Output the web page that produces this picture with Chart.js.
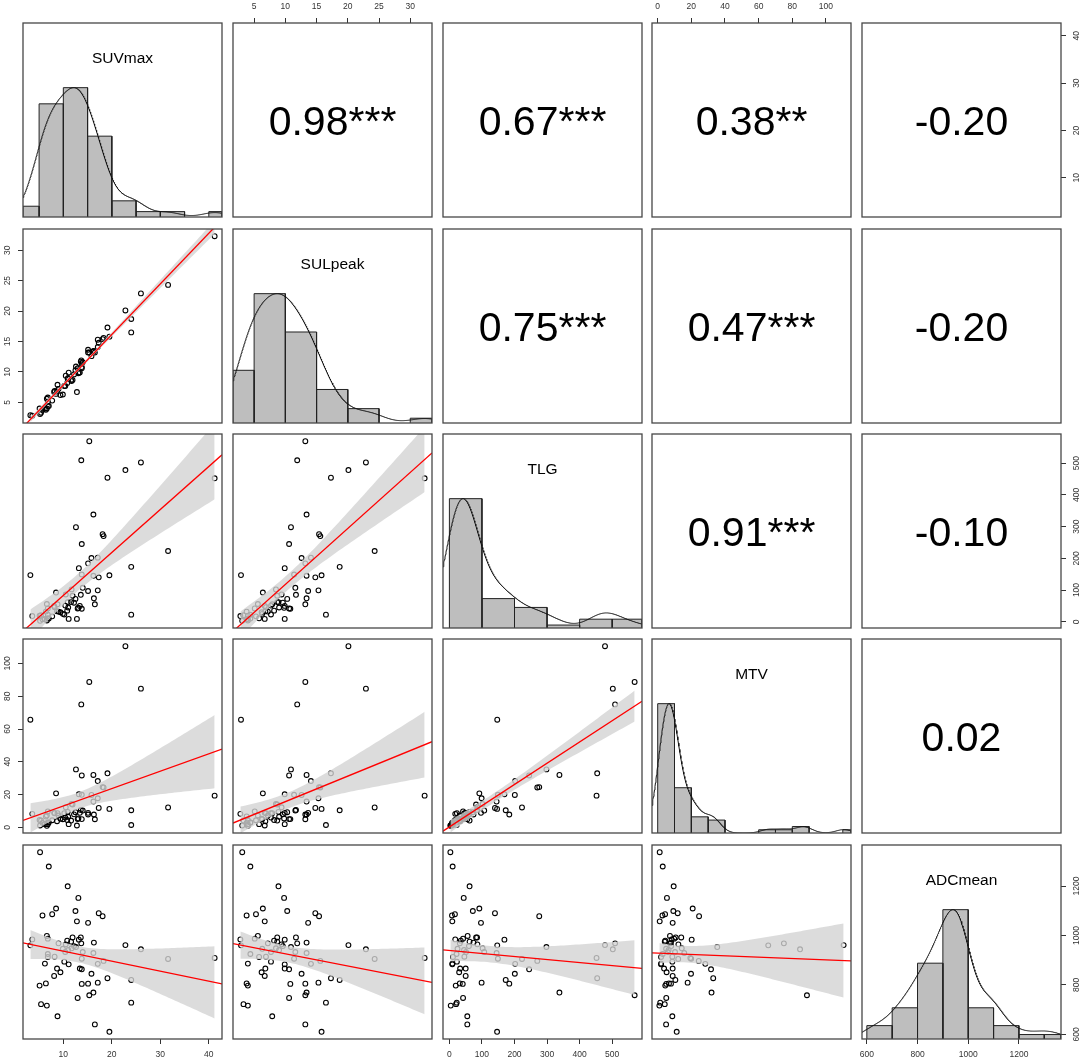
<!DOCTYPE html>
<html>
<head>
<meta charset="utf-8">
<title>Scatterplot matrix</title>
<script src="https://cdn.jsdelivr.net/npm/chart.js@4.4.1/dist/chart.umd.min.js"></script>
<style>
  html, body { margin:0; padding:0; background:#ffffff; }
  #wrap { position:relative; width:1084px; height:1063px; overflow:hidden; background:#fff; }
  .cell { position:absolute; }
  .cell canvas { display:block; }
</style>
</head>
<body>
<div id="wrap"></div>
<script>
// ---------------- data (one entry per patient) ----------------
const varNames = ['SUVmax', 'SULpeak', 'TLG', 'MTV', 'ADCmean'];
const SUVmax = [5.2, 7.0, 10.9, 13.1, 8.5, 12.5, 17.3, 18.1, 7.7, 5.7, 12.8, 15.1,
  6.6, 11.9, 13.6, 6.8, 3.6, 13.2, 11.6, 9.0, 13.7, 16.3, 10.5, 22.8, 3.2, 12.6, 9.9, 11.7, 26.0, 11.0, 12.2, 10.8,
  6.8, 6.8, 8.2, 10.4, 14.0, 16.2, 13.8, 31.6, 41.2, 10.2, 11.1, 6.2, 17.1, 18.3,
  19.1, 24.0, 15.8, 13.8, 13.4, 8.7, 9.4, 8.1, 15.1, 17.1, 13.8, 6.4, 5.1,
  12.95, 15.35, 16.2, 5.4, 6.6, 24.0, 8.8, 16.5, 19.5];
const SULpeak = [3.1, 4.4, 8.9, 9.8, 6.4, 10.3, 14.8, 15.4, 5.3, 3.8, 6.7, 13.65,
  5.6, 8.7, 11.7, 5.1, 2.8, 9.9, 8.7, 7.2, 11.9, 13.4, 9.4, 20.1, 2.9, 10.9, 6.3, 8.5, 22.9, 9.0, 9.6, 8.2,
  4.4, 5.8, 6.9, 7.7, 11.6, 13.4, 11.4, 24.3, 32.3, 7.7, 9.9, 4.0, 14.1, 15.6,
  17.3, 18.7, 12.6, 10.6, 9.9, 6.8, 6.2, 6.7, 13.2, 15.3, 10.8, 3.8, 4.0,
  10.6, 13.2, 13.4, 3.3, 4.0, 16.5, 7.9, 13.2, 15.8];
const TLG = [3, 10, 62, 44, 92, 72, 140, 276, 17, 8, 9, 97,
  56, 82, 85, 42, 18, 169, 62, 32, 509, 74, 86, 478, 147, 298, 25, 102, 502, 45, 60, 35,
  22, 11, 46, 51, 107, 145, 149, 223, 452, 23, 9, 9, 202, 270,
  454, 173, 201, 245, 50, 33, 30, 50, 184, 99, 41, 32, 19.5,
  42, 569, 338, 20.5, 4.1, 22.5, 55, 55, 146.5];
const MTV = [1.2, 3.0, 9.5, 5.5, 20.8, 9.3, 11.9, 24.6, 4.4, 2.8, 1.2, 8.9,
  7.3, 14, 10.7, 9.8, 8.3, 20.2, 4.2, 7.3, 75, 7.9, 12.3, 110.5, 65.7, 35.4, 5.0, 14.3, 84.6, 6.5, 8.0, 4.5,
  3.0, 2.0, 8.7, 6.0, 10.3, 15.8, 19.9, 12.2, 19.4, 8.7, 2.0, 2.0, 28.3, 24.4,
  33, 10.5, 19.8, 31.7, 8.9, 3.8, 5.3, 8.9, 7.9, 17.8, 5.1, 6.7, 4.5,
  5.1, 88.7, 32, 4.2, 1.0, 1.5, 8.7, 5.0, 11.3];
const ADCmean = [1337, 1279, 1199, 1152, 1109, 1099, 1090, 1078, 1086, 1081, 1057, 1051,
  998, 992, 992, 987, 984, 983, 975, 968, 968, 971, 964, 961, 960, 953, 946, 948, 944, 941, 957, 979,
  925, 913, 914, 933, 933, 929, 906, 905, 909, 894, 883, 886, 885, 897,
  827, 820, 845, 863, 866, 866, 851, 836, 805, 809, 804, 806, 797,
  747, 758, 769, 722, 716, 728, 673, 640, 610];

// tick labels of the outer axes
const suvTicks = [10, 20, 30, 40];
const sulTicks = [5, 10, 15, 20, 25, 30];
const tlgTicks = [0, 100, 200, 300, 400, 500];
const mtvTicks = [0, 20, 40, 60, 80, 100];
const adcTicks = [600, 800, 1000, 1200];

// correlation labels of the upper panels (row by row)
const corrText = ['0.98***', '0.67***', '0.38**', '-0.20', '0.75***', '0.47***', '-0.20', '0.91***', '-0.10', '0.02'];

// ---------------- helpers ----------------
const series = [SUVmax, SULpeak, TLG, MTV, ADCmean];
const ticksByVar = [suvTicks, sulTicks, tlgTicks, mtvTicks, adcTicks];

const LEFT = [23, 233, 443, 652, 862];
const TOP = [23, 229, 434, 639, 845];
const PW = 199, PH = 194, M = 24;
const FONT = '"Liberation Sans", Arial, Helvetica, sans-serif';
const FRAME = '#474747';

function mean(a) { return a.reduce((s, v) => s + v, 0) / a.length; }
function range4(a) {
  const mn = Math.min(...a), mx = Math.max(...a), d = mx - mn;
  return [mn - 0.04 * d, mx + 0.04 * d];
}
function quantile7(a, p) {
  const s = [...a].sort((x, y) => x - y);
  const h = (s.length - 1) * p, lo = Math.floor(h);
  const hi = Math.min(lo + 1, s.length - 1);
  return s[lo] + (h - lo) * (s[hi] - s[lo]);
}
function sdev(a) {
  const m = mean(a);
  return Math.sqrt(a.reduce((s, v) => s + (v - m) * (v - m), 0) / (a.length - 1));
}
function bwNrd(a) {
  const iqr = (quantile7(a, 0.75) - quantile7(a, 0.25)) / 1.34;
  return 1.06 * Math.min(sdev(a), iqr) * Math.pow(a.length, -0.2);
}
// R's pretty() unit for Sturges classes
function prettyUnit(a) {
  const n = Math.ceil(Math.log2(a.length) + 1);
  const mn = Math.min(...a), mx = Math.max(...a);
  const cell = (mx - mn) / n;
  const base = Math.pow(10, Math.floor(Math.log10(cell)));
  const h = 1.5, h5 = 0.5 + 1.5 * h;
  let unit = base;
  if (2 * base - cell < h * (cell - unit)) {
    unit = 2 * base;
    if (5 * base - cell < h5 * (cell - unit)) {
      unit = 5 * base;
      if (10 * base - cell < h * (cell - unit)) unit = 10 * base;
    }
  }
  return unit;
}
function histogram(a) {
  const unit = prettyUnit(a);
  const mn = Math.min(...a), mx = Math.max(...a);
  const b0 = Math.floor(mn / unit) * unit, b1 = Math.ceil(mx / unit) * unit;
  const nb = Math.round((b1 - b0) / unit);
  const breaks = [], counts = new Array(nb).fill(0);
  for (let i = 0; i <= nb; i++) breaks.push(b0 + i * unit);
  a.forEach(v => {
    let idx = Math.ceil((v - b0) / unit - 1e-7) - 1;
    if (idx < 0) idx = 0;
    if (idx >= nb) idx = nb - 1;
    counts[idx]++;
  });
  return { breaks, counts };
}
function densityCurve(a, lo, hi) {
  const bw = bwNrd(a);
  const mn = Math.min(...a), mx = Math.max(...a);
  const from = Math.max(mn - 3 * bw, lo), to = Math.min(mx + 3 * bw, hi);
  const pts = [];
  const N = 400;
  for (let i = 0; i <= N; i++) {
    const x = from + (to - from) * i / N;
    let s = 0;
    for (const v of a) { const z = (x - v) / bw; s += Math.exp(-0.5 * z * z); }
    pts.push({ x, y: s });
  }
  const my = Math.max(...pts.map(p => p.y));
  pts.forEach(p => { p.y = p.y / my; });
  return pts;
}
function qt975(df) {
  const z = 1.959964;
  const g1 = (z ** 3 + z) / 4;
  const g2 = (5 * z ** 5 + 16 * z ** 3 + 3 * z) / 96;
  const g3 = (3 * z ** 7 + 19 * z ** 5 + 17 * z ** 3 - 15 * z) / 384;
  return z + g1 / df + g2 / df ** 2 + g3 / df ** 3;
}
function linfit(x, y) {
  const n = x.length, mx = mean(x), my = mean(y);
  let sxx = 0, sxy = 0;
  for (let i = 0; i < n; i++) { sxx += (x[i] - mx) ** 2; sxy += (x[i] - mx) * (y[i] - my); }
  const b = sxy / sxx, a = my - b * mx;
  let rss = 0;
  for (let i = 0; i < n; i++) rss += (y[i] - a - b * x[i]) ** 2;
  const s = Math.sqrt(rss / (n - 2));
  return { a, b, s, n, mx, sxx, t: qt975(n - 2) };
}

const ranges = series.map(range4);

function axisOptions(isX, tickVals, show) {
  return {
    display: show,
    grid: { display: true, drawOnChartArea: false, drawTicks: true, tickLength: 5, color: '#333', lineWidth: 1 },
    border: { display: false },
    ticks: {
      display: isX,
      autoSkip: false, maxRotation: 0, minRotation: 0,
      padding: 6,
      color: '#333',
      font: { family: FONT, size: 8.5 },
      callback: v => String(v)
    },
    afterBuildTicks: scale => { scale.ticks = tickVals.map(v => ({ value: v })); },
    afterFit: scale => {
      if (!show) return;
      if (isX) scale.height = M; else scale.width = M;
    }
  };
}

const wrap = document.getElementById('wrap');

function makePanel(r, c) {
  const div = document.createElement('div');
  div.className = 'cell';
  div.style.left = (LEFT[c] - M) + 'px';
  div.style.top = (TOP[r] - M) + 'px';
  const cv = document.createElement('canvas');
  cv.width = PW + 2 * M; cv.height = PH + 2 * M;
  cv.style.width = (PW + 2 * M) + 'px'; cv.style.height = (PH + 2 * M) + 'px';
  div.appendChild(cv);
  wrap.appendChild(div);

  const showTop = r === 0 && c % 2 === 1;
  const showBottom = r === 4 && c % 2 === 0;
  const showLeft = c === 0 && r % 2 === 1;
  const showRight = c === 4 && r % 2 === 0;

  const xr = ranges[c], yr = ranges[r];
  const scales = {
    x: Object.assign({ type: 'linear', min: xr[0], max: xr[1], position: showTop ? 'top' : 'bottom' },
      axisOptions(true, ticksByVar[c], showTop || showBottom)),
    y: Object.assign({ type: 'linear', min: yr[0], max: yr[1], position: showLeft ? 'left' : 'right' },
      axisOptions(false, ticksByVar[r], showLeft || showRight))
  };

  const datasets = [];
  if (r === c) {
    scales.yh = { type: 'linear', min: 0, max: 1.5, display: false };
    const vals = series[c];
    datasets.push({
      type: 'line', data: densityCurve(vals, xr[0], xr[1]), xAxisID: 'x', yAxisID: 'yh',
      borderColor: '#111', borderWidth: 1, pointRadius: 0, tension: 0, fill: false, clip: 0
    });
    const h = histogram(vals);
    const maxC = Math.max(...h.counts);
    h.counts.forEach((cnt, i) => {
      if (cnt === 0) return;
      const x0 = Math.max(h.breaks[i], xr[0]), x1 = Math.min(h.breaks[i + 1], xr[1]);
      if (x1 <= x0) return;
      const hv = cnt / maxC;
      datasets.push({
        type: 'line', xAxisID: 'x', yAxisID: 'yh',
        data: [{ x: x0, y: 0 }, { x: x0, y: hv }, { x: x1, y: hv }, { x: x1, y: 0 }],
        borderColor: '#222', borderWidth: 1, backgroundColor: '#BEBEBE',
        fill: 'origin', pointRadius: 0, tension: 0, clip: 0
      });
    });
  } else if (r > c) {
    const xs = series[c], ys = series[r];
    const f = linfit(xs, ys);
    const xmin = Math.min(...xs), xmax = Math.max(...xs);
    const up = [], lo = [];
    const N = 60;
    for (let i = 0; i <= N; i++) {
      const x = xmin + (xmax - xmin) * i / N;
      const fit = f.a + f.b * x;
      const se = f.s * Math.sqrt(1 / f.n + (x - f.mx) ** 2 / f.sxx);
      up.push({ x, y: fit + f.t * se });
      lo.push({ x, y: fit - f.t * se });
    }
    datasets.push({
      type: 'line', data: [{ x: xr[0], y: f.a + f.b * xr[0] }, { x: xr[1], y: f.a + f.b * xr[1] }],
      borderColor: 'rgb(255,0,0)', borderWidth: 1.3, pointRadius: 0, tension: 0, fill: false, clip: 0
    });
    datasets.push({
      type: 'line', data: up, borderWidth: 0, borderColor: 'rgba(0,0,0,0)', pointRadius: 0, tension: 0, fill: false, clip: 0
    });
    datasets.push({
      type: 'line', data: lo, borderWidth: 0, borderColor: 'rgba(0,0,0,0)', pointRadius: 0, tension: 0,
      fill: '-1', backgroundColor: 'rgba(211,211,211,0.8)', clip: 0
    });
    datasets.push({
      type: 'scatter', data: xs.map((v, i) => ({ x: v, y: ys[i] })),
      pointStyle: 'circle', pointRadius: 2.4, pointBorderWidth: 1.1, borderWidth: 1.1,
      borderColor: '#000', backgroundColor: 'rgba(0,0,0,0)',
      pointBorderColor: '#000', pointBackgroundColor: 'rgba(0,0,0,0)', clip: 0
    });
  }

  let corrIndex = -1;
  if (r < c) {
    let k = 0;
    for (let rr = 0; rr < 5; rr++) for (let cc = rr + 1; cc < 5; cc++) { if (rr === r && cc === c) corrIndex = k; k++; }
  }

  const deco = {
    id: 'deco',
    afterDraw(chart) {
      const ctx = chart.ctx, ca = chart.chartArea;
      ctx.save();
      ctx.strokeStyle = FRAME; ctx.lineWidth = 1.3;
      ctx.strokeRect(ca.left, ca.top, ca.right - ca.left, ca.bottom - ca.top);
      const cx = (ca.left + ca.right) / 2;
      ctx.fillStyle = '#000';
      ctx.textAlign = 'center';
      ctx.textBaseline = 'alphabetic';
      if (r === c) {
        ctx.font = '15.5px ' + FONT;
        ctx.fillText(varNames[c], cx, ca.top + 39.5);
      } else if (corrIndex >= 0) {
        ctx.font = '41px ' + FONT;
        ctx.fillText(corrText[corrIndex], cx, (ca.top + ca.bottom) / 2 + 14.7);
      }
      if (showLeft || showRight) {
        const ys = chart.scales.y;
        ctx.font = '8.5px ' + FONT;
        ctx.fillStyle = '#333';
        ctx.textBaseline = 'middle';
        const lx = showLeft ? ca.left - 15 : ca.right + 16;
        ticksByVar[r].forEach(v => {
          const py = ys.getPixelForValue(v);
          ctx.save();
          ctx.translate(lx, py);
          ctx.rotate(-Math.PI / 2);
          ctx.fillText(String(v), 0, 0);
          ctx.restore();
        });
      }
      ctx.restore();
    }
  };

  new Chart(cv, {
    type: 'line',
    data: { datasets },
    options: {
      responsive: false,
      animation: false,
      events: [],
      layout: { padding: { top: showTop ? 0 : M, bottom: showBottom ? 0 : M, left: showLeft ? 0 : M, right: showRight ? 0 : M } },
      plugins: { legend: { display: false }, tooltip: { enabled: false } },
      scales
    },
    plugins: [deco]
  });
}

for (let r = 0; r < 5; r++) for (let c = 0; c < 5; c++) makePanel(r, c);
</script>
</body>
</html>
